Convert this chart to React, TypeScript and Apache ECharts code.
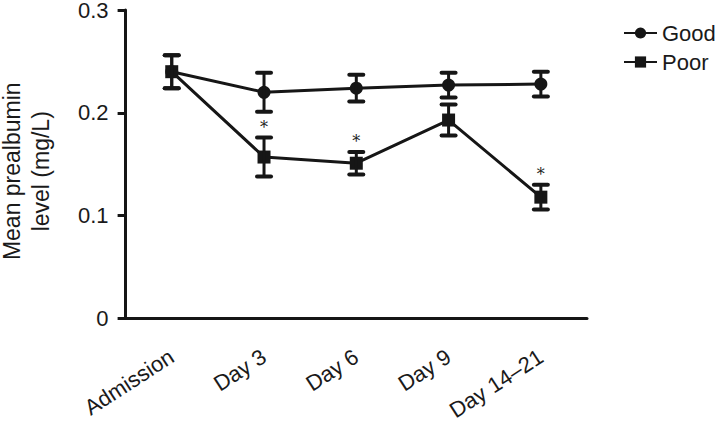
import React, { useEffect, useRef } from "react";
import * as echarts from "echarts";

const categories = ["Admission", "Day 3", "Day 6", "Day 9", "Day 14–21"];
const goodMean = [0.24, 0.22, 0.224, 0.227, 0.228];
const goodErr = [0.016, 0.019, 0.013, 0.012, 0.012];
const poorMean = [0.24, 0.157, 0.151, 0.193, 0.118];
const poorErr = [0.016, 0.019, 0.011, 0.015, 0.012];
const poorSignificant = [false, true, true, false, true];
const yTicks = [0, 0.1, 0.2, 0.3];

const INK = "#161616";
const FONT = "Liberation Sans, Arial, Helvetica, sans-serif";

function errorData(mean: number[], err: number[], sig?: boolean[]) {
  return mean.map((m, i) => [i, m - err[i], m + err[i], sig && sig[i] ? 1 : 0]);
}

function renderError(params: any, api: any) {
  const x = api.value(0);
  const lo = api.coord([x, api.value(1)]);
  const hi = api.coord([x, api.value(2)]);
  const half = 7;
  const style = { stroke: INK, lineWidth: 4, lineCap: "round" };
  const children: any[] = [
    { type: "line", shape: { x1: lo[0], y1: lo[1], x2: hi[0], y2: hi[1] }, style: { stroke: INK, lineWidth: 3 } },
    { type: "line", shape: { x1: hi[0] - half, y1: hi[1], x2: hi[0] + half, y2: hi[1] }, style },
    { type: "line", shape: { x1: lo[0] - half, y1: lo[1], x2: lo[0] + half, y2: lo[1] }, style },
  ];
  if (api.value(3) === 1) {
    children.push({
      type: "text",
      x: hi[0],
      y: hi[1] - 10,
      style: {
        text: "*",
        fill: "#222",
        font: "16px 'DejaVu Serif', serif",
        align: "center",
        verticalAlign: "middle",
      },
    });
  }
  return { type: "group", children };
}

export default function App() {
  const ref = useRef<HTMLDivElement>(null);
  useEffect(() => {
    if (!ref.current) return;
    const chart = echarts.init(ref.current, undefined, { renderer: "svg" });
    chart.setOption({
      animation: false,
      backgroundColor: "#ffffff",
      grid: { left: 125.6, right: 131, top: 10, bottom: 104.5, containLabel: false, outerBoundsMode: "none" },
      legend: {
        orient: "vertical",
        left: 618,
        top: 17,
        itemWidth: 33,
        itemHeight: 14,
        itemGap: 7,
        data: ["Good", "Poor"],
        textStyle: { fontSize: 22, color: "#1a1a1a", fontFamily: FONT },
      },
      xAxis: {
        type: "category",
        data: categories,
        boundaryGap: true,
        axisLine: { lineStyle: { color: INK, width: 3 } },
        axisTick: { alignWithLabel: true, length: 9, lineStyle: { color: INK, width: 3 } },
        axisLabel: { rotate: 33, fontSize: 22, color: "#1a1a1a", fontFamily: FONT, margin: 36, interval: 0 },
      },
      yAxis: {
        type: "value",
        min: 0,
        max: 0.3,
        interval: 0.1,
        name: "Mean prealbumin\nlevel (mg/L)",
        nameLocation: "middle",
        nameGap: 70,
        nameTextStyle: { fontSize: 23, color: "#1a1a1a", fontFamily: FONT, lineHeight: 29, padding: [0, 14, 0, 0] },
        axisLine: { show: true, lineStyle: { color: INK, width: 3 } },
        axisTick: { show: true, length: 8, lineStyle: { color: INK, width: 3 } },
        splitLine: { show: false },
        axisLabel: {
          fontSize: 22,
          lineHeight: 20,
          color: "#1a1a1a",
          fontFamily: FONT,
          margin: 17,
          formatter: (v: number) => {
            const t = yTicks.find((y) => Math.abs(y - v) < 1e-9);
            return t === 0 ? "0" : String(Math.round(v * 10) / 10);
          },
        },
      },
      series: [
        {
          name: "Good",
          type: "line",
          data: goodMean,
          symbol: "circle",
          symbolSize: 13,
          lineStyle: { color: INK, width: 3 },
          itemStyle: { color: INK },
          z: 3,
        },
        {
          name: "Poor",
          type: "line",
          data: poorMean,
          symbol: "rect",
          symbolSize: 13,
          lineStyle: { color: INK, width: 3 },
          itemStyle: { color: INK },
          z: 3,
        },
        {
          name: "GoodErr",
          type: "custom",
          data: errorData(goodMean, goodErr),
          renderItem: renderError,
          encode: { x: 0, y: [1, 2] },
          z: 4,
        },
        {
          name: "PoorErr",
          type: "custom",
          data: errorData(poorMean, poorErr, poorSignificant),
          renderItem: renderError,
          encode: { x: 0, y: [1, 2] },
          z: 4,
        },
      ],
    });
    return () => chart.dispose();
  }, []);
  return <div ref={ref} style={{ width: 718, height: 423, position: "absolute", left: 0, top: 0 }} />;
}
